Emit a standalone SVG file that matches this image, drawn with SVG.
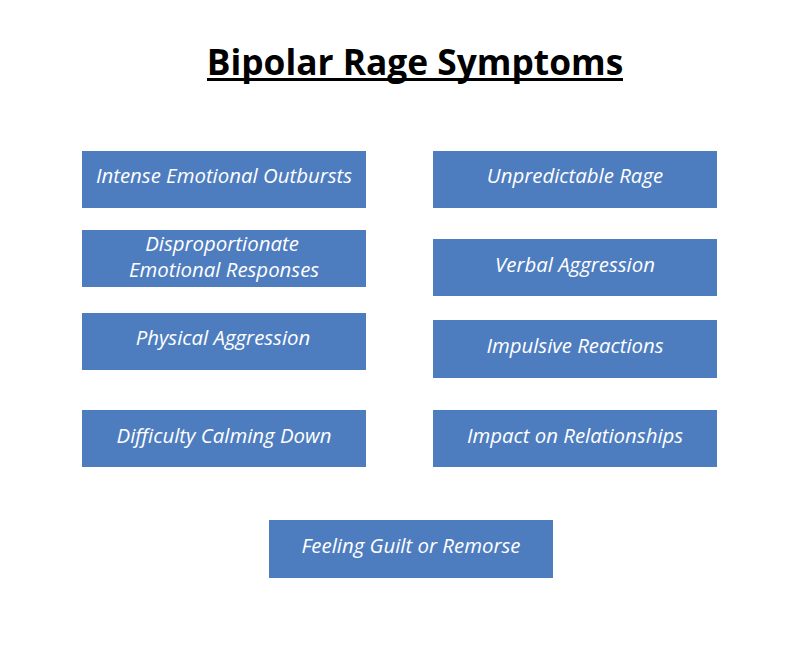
<svg xmlns="http://www.w3.org/2000/svg" width="799" height="650" viewBox="0 0 799 650">
<style>
.box{fill:#4e7dbf;}
.t{font-family:"Open Sans","Liberation Sans",sans-serif;font-style:italic;font-size:20.4px;fill:#ffffff;text-anchor:middle;}
.title{font-family:"Open Sans","Liberation Sans",sans-serif;font-weight:bold;font-size:35.3px;fill:#000;text-anchor:middle;}
</style>
<rect width="799" height="650" fill="#ffffff"/>
<g id="title">
<text class="title" x="415" y="75">Bipolar Rage Symptoms</text>
<rect x="207" y="78" width="416" height="3" fill="#000"/>
</g>
<g id="n1"><rect class="box" x="82" y="151" width="284" height="57"/><text class="t" x="224" y="183">Intense Emotional Outbursts</text></g>
<g id="n2"><rect class="box" x="433" y="151" width="284" height="57"/><text class="t" x="575" y="183">Unpredictable Rage</text></g>
<g id="n3"><rect class="box" x="82" y="230" width="284" height="57"/><text class="t" x="222" y="251">Disproportionate</text><text class="t" x="224" y="277">Emotional Responses</text></g>
<g id="n4"><rect class="box" x="433" y="239" width="284" height="57"/><text class="t" x="575" y="272">Verbal Aggression</text></g>
<g id="n5"><rect class="box" x="82" y="313" width="284" height="57"/><text class="t" x="223" y="345">Physical Aggression</text></g>
<g id="n6"><rect class="box" x="433" y="320" width="284" height="58"/><text class="t" x="575" y="353">Impulsive Reactions</text></g>
<g id="n7"><rect class="box" x="82" y="410" width="284" height="57"/><text class="t" x="224" y="443">Difficulty Calming Down</text></g>
<g id="n8"><rect class="box" x="433" y="410" width="284" height="57"/><text class="t" x="575" y="443">Impact on Relationships</text></g>
<g id="n9"><rect class="box" x="269" y="520" width="284" height="58"/><text class="t" x="411" y="553">Feeling Guilt or Remorse</text></g>
<g id="connectors"></g>
</svg>
